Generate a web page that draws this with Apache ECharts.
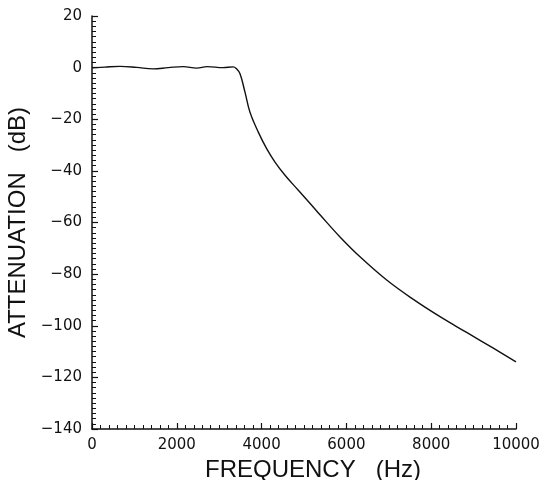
<!DOCTYPE html>
<html>
<head>
<meta charset="utf-8">
<script src="https://cdn.jsdelivr.net/npm/echarts@6/dist/echarts.min.js"></script>
<style>
  html, body { margin: 0; padding: 0; background: #fff; }
  #main { width: 551px; height: 480px; }
</style>
</head>
<body>
<div id="main"></div>
<script>
// frequency (Hz) and attenuation (dB)
var freq = [0, 300, 660, 1050, 1440, 1800, 2150, 2470, 2720, 3090, 3330, 3400,
  3491, 3608, 3726, 3922, 4119, 4316, 4552, 4866, 5181, 5377, 5849, 6321,
  6950, 7579, 8208, 8836, 9465, 10000]
var atten = [-0.1, 0.2, 0.5, 0.1, -0.5, 0, 0.4, -0.2, 0.4, 0, 0.3, -0.3,
  -2.4, -9.5, -17.3, -25, -31.4, -36.6, -41.7, -47.5, -53.3, -57, -65.6, -73.3,
  -82.3, -89.8, -96.5, -102.6, -108.7, -114]

var xTicks = [0, 2000, 4000, 6000, 8000, 10000]
var yTicks = [-140, -120, -100, -80, -60, -40, -20, 0, 20]

var pts = freq.map(function (f, i) { return [f, atten[i]] })

var titleFont = 'Liberation Sans'
var tickFont = 'DejaVu Sans'
var myChart = echarts.init(document.getElementById('main'))
myChart.setOption({
  animation: false,
  grid: { left: 92, right: 35, top: 16, bottom: 51, outerBoundsMode: 'none', containLabel: false },
  xAxis: {
    type: 'value',
    min: xTicks[0],
    max: xTicks[xTicks.length - 1],
    interval: 2000,
    name: 'FREQUENCY   (Hz)',
    nameLocation: 'middle',
    nameGap: 24,
    nameTextStyle: { fontFamily: titleFont, fontSize: 24, color: '#111', padding: [0, 0, 0, 18] },
    axisLine: { onZero: false, lineStyle: { color: '#111', width: 1.5 } },
    axisTick: { inside: true, length: 6, lineStyle: { color: '#111', width: 1.2 } },
    minorTick: { show: true, splitNumber: 10, length: 4, lineStyle: { color: '#111', width: 1 } },
    axisLabel: {
      fontFamily: tickFont, fontSize: 15, color: '#111', margin: 9,
      formatter: function (v) { return String(v) }
    },
    splitLine: { show: false }
  },
  yAxis: {
    type: 'value',
    min: yTicks[0],
    max: yTicks[yTicks.length - 1],
    interval: 20,
    name: 'ATTENUATION   (dB)',
    nameLocation: 'middle',
    nameGap: 56,
    nameTextStyle: { fontFamily: titleFont, fontSize: 24, color: '#111' },
    axisLine: { show: true, onZero: false, lineStyle: { color: '#111', width: 1.5 } },
    axisTick: { show: true, inside: true, length: 6, lineStyle: { color: '#111', width: 1.2 } },
    minorTick: { show: true, splitNumber: 10, length: 4, lineStyle: { color: '#111', width: 1 } },
    axisLabel: {
      fontFamily: tickFont, fontSize: 15, color: '#111', margin: 10,
      formatter: function (v) { return String(v).replace('-', '\u2212') }
    },
    splitLine: { show: false }
  },
  series: [{
    type: 'line',
    data: pts,
    smooth: 0.4,
    showSymbol: false,
    lineStyle: { color: '#111', width: 1.4 }
  }]
})
</script>
</body>
</html>
